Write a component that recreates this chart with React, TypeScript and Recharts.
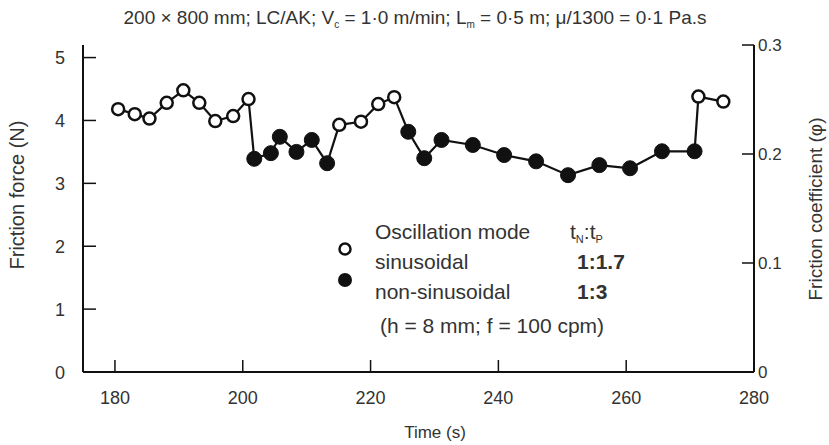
import React from "react";
import { LineChart, Line, XAxis, YAxis } from "recharts";

const times = [180.5, 183.1, 185.4, 188.1, 190.7, 193.2, 195.7, 198.5, 200.9, 201.8, 204.4, 205.8, 208.4, 210.8, 213.2, 215.1, 218.5, 221.2, 223.7, 225.9, 228.4, 231.1, 236.0, 240.9, 245.9, 250.9, 255.8, 260.6, 265.6, 270.7, 271.3, 275.2];
const forces = [4.18, 4.10, 4.03, 4.28, 4.48, 4.28, 3.99, 4.07, 4.34, 3.39, 3.48, 3.74, 3.50, 3.69, 3.32, 3.93, 3.98, 4.26, 4.37, 3.82, 3.40, 3.69, 3.61, 3.45, 3.35, 3.13, 3.29, 3.24, 3.51, 3.51, 4.38, 4.30];
// S = sinusoidal (open), N = non-sinusoidal (filled)
const modes = ["S", "S", "S", "S", "S", "S", "S", "S", "S", "N", "N", "N", "N", "N", "N", "S", "S", "S", "S", "N", "N", "N", "N", "N", "N", "N", "N", "N", "N", "N", "S", "S"];

const timeTicks = [180, 200, 220, 240, 260, 280];
const forceTicks = [0, 1, 2, 3, 4, 5];
const coefTicks = [0, 0.1, 0.2, 0.3];

const data = times.map((t, i) => ({ t, f: forces[i], mode: modes[i] }));

const FONT = "'Liberation Sans', Arial, Helvetica, sans-serif";
const INK = "#111";
const TXT = "#333";

const BottomTick = (props: any) => {
  const { x, y, payload } = props;
  return (
    <g>
      <line x1={x} y1={y} x2={x} y2={y - 12} stroke={INK} strokeWidth={1.5} />
      <text x={x} y={y + 32} textAnchor="middle" fontSize={18} fontFamily={FONT} fill={TXT}>
        {payload.value}
      </text>
    </g>
  );
};

const LeftTick = (props: any) => {
  const { x, y, payload } = props;
  return (
    <g>
      <line x1={x} y1={y} x2={x + 13} y2={y} stroke={INK} strokeWidth={1.5} />
      <text x={x - 18} y={y + 6.5} textAnchor="end" fontSize={18} fontFamily={FONT} fill={TXT}>
        {payload.value}
      </text>
    </g>
  );
};

const RightTick = (props: any) => {
  const { x, y, payload } = props;
  return (
    <g>
      <line x1={x} y1={y} x2={x - 12} y2={y} stroke={INK} strokeWidth={1.5} />
      <text x={x + 4} y={y + 6} textAnchor="start" fontSize={17} fontFamily={FONT} fill={TXT}>
        {payload.value}
      </text>
    </g>
  );
};

const Dot = (props: any) => {
  const { cx, cy, payload, index } = props;
  if (cx == null || cy == null) return <g key={index} />;
  if (payload.mode === "S") {
    return <circle key={index} cx={cx} cy={cy} r={6} fill="#fff" stroke={INK} strokeWidth={2.5} />;
  }
  return <circle key={index} cx={cx} cy={cy} r={7.5} fill={INK} stroke={INK} strokeWidth={1} />;
};

export default function App() {
  return (
    <div style={{ position: "absolute", left: 0, top: 0, width: 829, height: 445, background: "#fff" }}>
      <LineChart
        width={829}
        height={445}
        data={data}
        margin={{ top: 45, right: 0, bottom: 0, left: 0 }}
      >
        <XAxis
          dataKey="t"
          type="number"
          domain={[175, 280]}
          ticks={timeTicks}
          allowDataOverflow
          height={73}
          tickSize={0}
          tickMargin={0}
          tickLine={false}
          axisLine={{ stroke: INK, strokeWidth: 2 }}
          tick={<BottomTick />}
          interval={0}
        />
        <XAxis
          xAxisId="top"
          orientation="top"
          dataKey="t"
          type="number"
          domain={[175, 280]}
          height={0}
          tick={false}
          tickLine={false}
          axisLine={{ stroke: INK, strokeWidth: 2 }}
        />
        <YAxis
          yAxisId="left"
          type="number"
          domain={[0, 5.2]}
          ticks={forceTicks}
          allowDataOverflow
          width={83}
          tickSize={0}
          tickMargin={0}
          tickLine={false}
          axisLine={{ stroke: INK, strokeWidth: 2 }}
          tick={<LeftTick />}
          interval={0}
        />
        <YAxis
          yAxisId="right"
          orientation="right"
          type="number"
          domain={[0, 0.3]}
          ticks={coefTicks}
          allowDataOverflow
          width={75}
          tickSize={0}
          tickMargin={0}
          tickLine={false}
          axisLine={{ stroke: INK, strokeWidth: 2 }}
          tick={<RightTick />}
          interval={0}
        />
        <Line
          yAxisId="left"
          dataKey="f"
          type="linear"
          stroke={INK}
          strokeWidth={2.2}
          dot={Dot}
          activeDot={false}
          isAnimationActive={false}
        />
      </LineChart>
      <svg
        width={829}
        height={445}
        style={{ position: "absolute", left: 0, top: 0, pointerEvents: "none" }}
        fontFamily={FONT}
      >
        <text x={415} y={24} textAnchor="middle" fontSize={19} fill={TXT}>
          200 × 800 mm; LC/AK; V
          <tspan fontSize={10} dy={4}>c</tspan>
          <tspan dy={-4}> = 1·0 m/min; L</tspan>
          <tspan fontSize={10} dy={4}>m</tspan>
          <tspan dy={-4}> = 0·5 m; μ/1300 = 0·1 Pa.s</tspan>
        </text>
        <text x={435} y={438} textAnchor="middle" fontSize={17} fill={TXT}>Time (s)</text>
        <text transform="translate(24,195) rotate(-90)" textAnchor="middle" fontSize={20} fill={TXT}>
          Friction force (N)
        </text>
        <text transform="translate(822,209) rotate(-90)" textAnchor="middle" fontSize={19} fill={TXT}>
          Friction coefficient (φ)
        </text>
        <circle cx={345} cy={249} r={5.5} fill="#fff" stroke={INK} strokeWidth={2.5} />
        <circle cx={345} cy={280} r={7} fill={INK} />
        <text x={375} y={239} fontSize={21} fill={TXT}>Oscillation mode</text>
        <text x={570} y={239} fontSize={21} fill={TXT}>
          t<tspan fontSize={11} dy={4}>N</tspan>
          <tspan dy={-4}>:t</tspan>
          <tspan fontSize={11} dy={4}>P</tspan>
        </text>
        <text x={375} y={269} fontSize={21} fill={TXT}>sinusoidal</text>
        <text x={577} y={269} fontSize={21} fontWeight="bold" fill={TXT}>1:1.7</text>
        <text x={375} y={299} fontSize={21} fill={TXT}>non-sinusoidal</text>
        <text x={577} y={299} fontSize={21} fontWeight="bold" fill={TXT}>1:3</text>
        <text x={380} y={333} fontSize={21} fill={TXT}>(h = 8 mm; f = 100 cpm)</text>
      </svg>
    </div>
  );
}
